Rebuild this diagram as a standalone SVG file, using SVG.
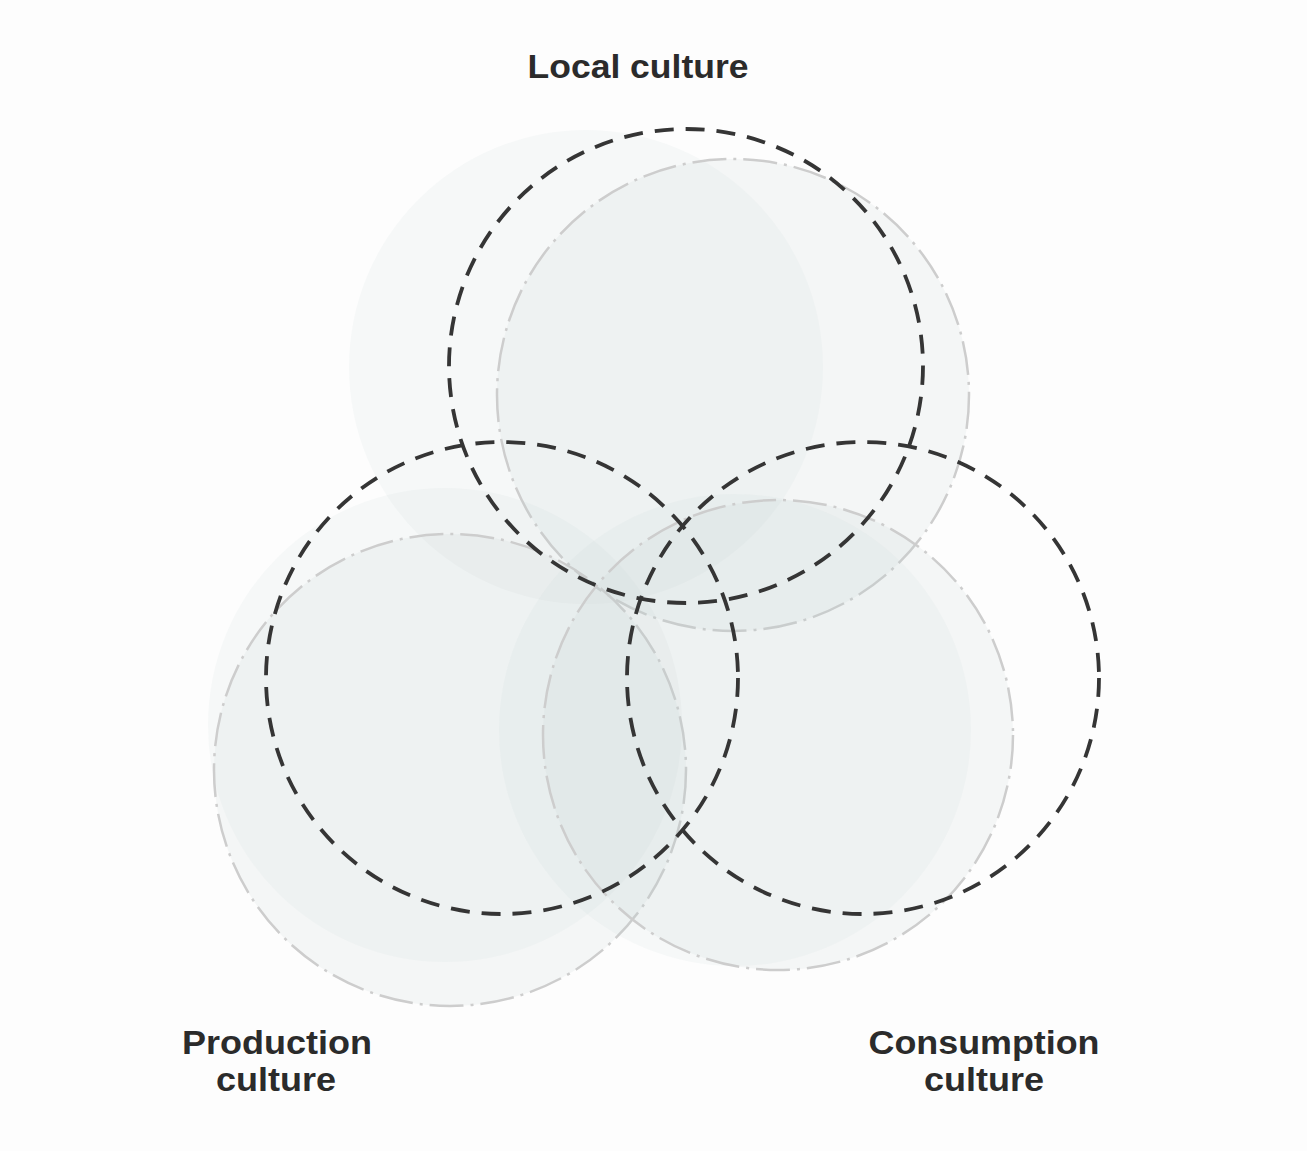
<svg xmlns="http://www.w3.org/2000/svg" width="1307" height="1151" viewBox="0 0 1307 1151">
<style>
.bg{fill:#fdfdfd}
.soft{fill:#c2cfd2;fill-opacity:0.11;stroke:none}
.shade{fill:#c2cfd2;fill-opacity:0.15;stroke:#cdcdcd;stroke-width:2.5;stroke-dasharray:34 7 3 7}
.ring{fill:none;stroke:#353535;stroke-width:3.8;stroke-dasharray:19 12}
.lbl{font-family:"Liberation Sans",Arial,sans-serif;font-weight:bold;font-size:34px;fill:#2b2b2b;text-anchor:middle}
</style>
<rect class="bg" x="0" y="0" width="1307" height="1151"/>
<g id="local-culture">
<circle class="soft" cx="586" cy="367" r="237"/>
<circle class="shade" cx="733" cy="395" r="236"/>
<text class="lbl" x="638" y="78" textLength="221" lengthAdjust="spacingAndGlyphs">Local culture</text>
</g>
<g id="production-culture">
<circle class="soft" cx="445" cy="725" r="237"/>
<circle class="shade" cx="450" cy="770" r="236"/>
<text class="lbl" x="277" y="1054" textLength="190" lengthAdjust="spacingAndGlyphs">Production</text>
<text class="lbl" x="276" y="1091" textLength="120" lengthAdjust="spacingAndGlyphs">culture</text>
</g>
<g id="consumption-culture">
<circle class="soft" cx="735" cy="730" r="236"/>
<circle class="shade" cx="778" cy="735" r="235"/>
<text class="lbl" x="984" y="1054" textLength="231" lengthAdjust="spacingAndGlyphs">Consumption</text>
<text class="lbl" x="984" y="1091" textLength="120" lengthAdjust="spacingAndGlyphs">culture</text>
</g>
<g id="connectors">
<circle class="ring" cx="686" cy="366" r="237"/>
<circle class="ring" cx="502" cy="678" r="236"/>
<circle class="ring" cx="863" cy="678" r="236"/>
</g>
</svg>
